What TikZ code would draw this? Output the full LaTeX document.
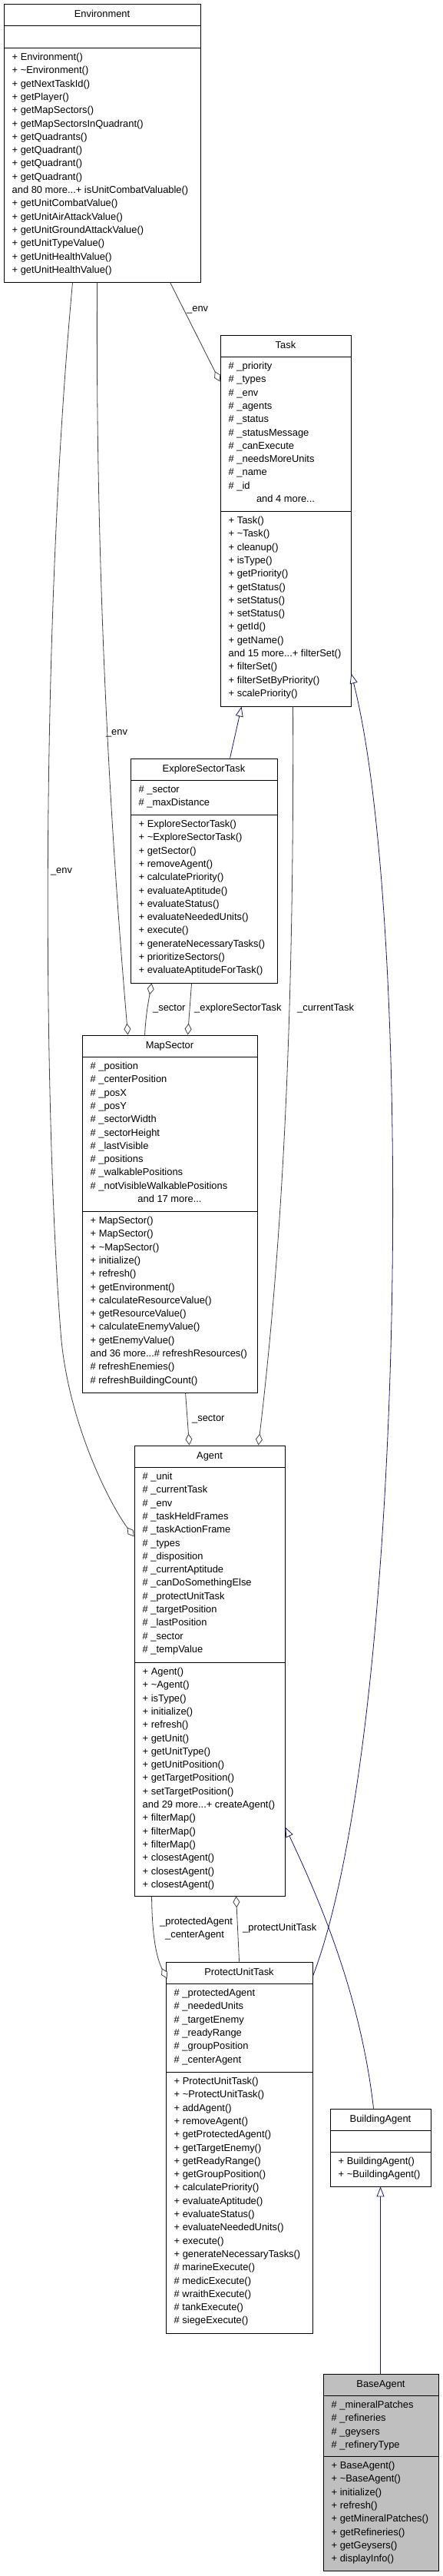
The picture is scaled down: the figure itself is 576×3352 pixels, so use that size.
\documentclass[tikz,border=0pt]{standalone}
\usepackage{fontspec}
\setmainfont{Liberation Sans}
\usetikzlibrary{arrows.meta}
\definecolor{edgegray}{HTML}{404040}
\definecolor{inh}{HTML}{191970}
\definecolor{basefill}{HTML}{BFBFBF}
\newcommand\mydots{...}
\newcommand\tl{\textasciitilde}
\tikzset{
  txt/.style={font=\fontsize{12.9}{15}\selectfont, inner sep=0pt, text=black},
  umlbox/.style={draw=black, line width=0.9pt, inner sep=0pt, rectangle},
  sepline/.style={draw=black, line width=0.9pt},
  assoc/.style={draw=edgegray, line width=0.8pt, -{Diamond[fill=white, length=15pt, width=9pt, line width=0.8pt]}},
  inherit/.style={draw=inh, line width=0.8pt, -{Triangle[fill=white, length=13pt, width=10pt, line width=0.8pt]}},
}
% name, L, R, T, t1, t2, B, fill, title
\newcommand\mkbox[9]{%
  \node[umlbox, fill=#8, minimum width={#3pt-#2pt}, minimum height={#7pt-#4pt}] (#1) at ({(#2+#3)/2},{-(#4+#7)/2}) {};
  \draw[sepline] (#2,-#5) -- (#3,-#5);
  \draw[sepline] (#2,-#6) -- (#3,-#6);
  \node[txt, anchor=base] (#1title) at ({(#2+#3)/2},{-((#4+#5)/2+3.5)}) {#9};
}
% prefix, x, compartment top, list
\newcommand\mlines[4]{%
  \foreach \s [count=\i from 0] in {#4} {
    \node[txt, anchor=base west] (#1\i) at (#2, {-(#3+16.5+17.3*\i)}) {\s};
  }
}
\begin{document}
\begin{tikzpicture}[x=1pt, y=1pt]
\useasboundingbox (0,0) rectangle (576,-3352);

% ---------- Environment ----------
\mkbox{env}{5}{261}{5}{33}{62}{367}{white}{Environment}
\mlines{envm}{15.5}{62}{+ Environment(), + \tl Environment(), + getNextTaskId(), + getPlayer(), + getMapSectors(), + getMapSectorsInQuadrant(), + getQuadrants(), + getQuadrant(), + getQuadrant(), + getQuadrant(), and 80 more\mydots+ isUnitCombatValuable(), + getUnitCombatValue(), + getUnitAirAttackValue(), + getUnitGroundAttackValue(), + getUnitTypeValue(), + getUnitHealthValue(), + getUnitHealthValue()}

% ---------- Task ----------
\mkbox{task}{287}{457}{436}{464}{665}{919}{white}{Task}
\mlines{taska}{297.5}{464}{\# \_priority, \# \_types, \# \_env, \# \_agents, \# \_status, \# \_statusMessage, \# \_canExecute, \# \_needsMoreUnits, \# \_name, \# \_id}
\node[txt, anchor=base] (taskmore) at (372,-653.5) {and 4 more\mydots};
\mlines{taskm}{297.5}{665}{+ Task(), + \tl Task(), + cleanup(), + isType(), + getPriority(), + getStatus(), + setStatus(), + setStatus(), + getId(), + getName(), and 15 more\mydots+ filterSet(), + filterSet(), + filterSetByPriority(), + scalePriority()}

% ---------- ExploreSectorTask ----------
\mkbox{est}{170}{361}{987}{1015}{1060}{1279}{white}{ExploreSectorTask}
\mlines{esta}{180.5}{1015}{\# \_sector, \# \_maxDistance}
\mlines{estm}{180.5}{1060}{+ ExploreSectorTask(), + \tl ExploreSectorTask(), + getSector(), + removeAgent(), + calculatePriority(), + evaluateAptitude(), + evaluateStatus(), + evaluateNeededUnits(), + execute(), + generateNecessaryTasks(), + prioritizeSectors(), + evaluateAptitudeForTask()}

% ---------- MapSector ----------
\mkbox{ms}{107}{335}{1347}{1375}{1576}{1812}{white}{MapSector}
\mlines{msa}{117.5}{1375}{\# \_position, \# \_centerPosition, \# \_posX, \# \_posY, \# \_sectorWidth, \# \_sectorHeight, \# \_lastVisible, \# \_positions, \# \_walkablePositions, \# \_notVisibleWalkablePositions}
\node[txt, anchor=base] (msmore) at (221,-1564.5) {and 17 more\mydots};
\mlines{msm}{117.5}{1576}{+ MapSector(), + MapSector(), + \tl MapSector(), + initialize(), + refresh(), + getEnvironment(), + calculateResourceValue(), + getResourceValue(), + calculateEnemyValue(), + getEnemyValue(), and 36 more\mydots\# refreshResources(), \# refreshEnemies(), \# refreshBuildingCount()}

% ---------- Agent ----------
\mkbox{agent}{175}{371}{1881}{1909}{2163}{2467}{white}{Agent}
\mlines{agenta}{185.5}{1909}{\# \_unit, \# \_currentTask, \# \_env, \# \_taskHeldFrames, \# \_taskActionFrame, \# \_types, \# \_disposition, \# \_currentAptitude, \# \_canDoSomethingElse, \# \_protectUnitTask, \# \_targetPosition, \# \_lastPosition, \# \_sector, \# \_tempValue}
\mlines{agentm}{185.5}{2163}{+ Agent(), + \tl Agent(), + isType(), + initialize(), + refresh(), + getUnit(), + getUnitType(), + getUnitPosition(), + getTargetPosition(), + setTargetPosition(), and 29 more\mydots+ createAgent(), + filterMap(), + filterMap(), + filterMap(), + closestAgent(), + closestAgent(), + closestAgent()}

% ---------- ProtectUnitTask ----------
\mkbox{put}{216}{407}{2553}{2581}{2696}{3036}{white}{ProtectUnitTask}
\mlines{puta}{226.5}{2581}{\# \_protectedAgent, \# \_neededUnits, \# \_targetEnemy, \# \_readyRange, \# \_groupPosition, \# \_centerAgent}
\mlines{putm}{226.5}{2696}{+ ProtectUnitTask(), + \tl ProtectUnitTask(), + addAgent(), + removeAgent(), + getProtectedAgent(), + getTargetEnemy(), + getReadyRange(), + getGroupPosition(), + calculatePriority(), + evaluateAptitude(), + evaluateStatus(), + evaluateNeededUnits(), + execute(), + generateNecessaryTasks(), \# marineExecute(), \# medicExecute(), \# wraithExecute(), \# tankExecute(), \# siegeExecute()}

% ---------- BuildingAgent ----------
\mkbox{bld}{430}{561}{2744}{2772}{2800}{2845}{white}{BuildingAgent}
\mlines{bldm}{440.5}{2800}{+ BuildingAgent(), + \tl BuildingAgent()}

% ---------- BaseAgent ----------
\mkbox{base}{421}{571}{3089}{3117}{3196}{3345}{basefill}{BaseAgent}
\mlines{basea}{431.5}{3117}{\# \_mineralPatches, \# \_refineries, \# \_geysers, \# \_refineryType}
\mlines{basem}{431.5}{3196}{+ BaseAgent(), + \tl BaseAgent(), + initialize(), + refresh(), + getMineralPatches(), + getRefineries(), + getGeysers(), + displayInfo()}

% ---------- connectors ----------
% Environment -> Task (_env)
\draw[assoc] ([xshift=217pt]env.south west) -- ([yshift=-61pt]task.north west);
\node[txt, anchor=base west] (l1) at (243,-405.5) {\_env};
% Environment -> MapSector (_env)
\draw[assoc] ([xshift=122pt]env.south west) .. controls (124,-800) and (150,-1150) .. ([xshift=60pt]ms.north west);
\node[txt, anchor=base] (l2) at (152,-956.5) {\_env};
% Environment -> Agent (_env)
\draw[assoc] ([xshift=90pt]env.south west) .. controls (50,-850) and (58,-1480) .. (80,-1745) .. controls (92,-1860) and (145,-1960) .. ([yshift=-119pt]agent.north west);
\node[txt, anchor=base] (l3) at (80,-1136.5) {\_env};
% ExploreSectorTask -> Task (inheritance)
\draw[inherit] ([xshift=130pt]est.north west) -- ([xshift=28pt]task.south west);
% MapSector -> ExploreSectorTask (_sector)
\draw[assoc] ([xshift=82pt]ms.north west) .. controls (190,-1320) and (193,-1305) .. ([xshift=28pt]est.south west);
\node[txt, anchor=base west] (l5) at (199,-1315.5) {\_sector};
% ExploreSectorTask -> MapSector (_exploreSectorTask)
\draw[assoc] ([xshift=80pt]est.south west) -- ([xshift=138pt]ms.north west);
\node[txt, anchor=base west] (l6) at (253,-1315.5) {\_exploreSectorTask};
% Task -> Agent (_currentTask)
\draw[assoc] ([xshift=95pt]task.south west) .. controls (383,-1300) and (370,-1600) .. ([xshift=162pt]agent.north west);
\node[txt, anchor=base west] (l7) at (387,-1315.5) {\_currentTask};
% MapSector -> Agent (_sector)
\draw[assoc] ([xshift=135pt]ms.south west) -- ([xshift=72pt]agent.north west);
\node[txt, anchor=base west] (l8) at (250,-1849.5) {\_sector};
% Agent -> ProtectUnitTask (_protectedAgent, _centerAgent)
\draw[assoc] ([xshift=23pt]agent.south west) .. controls (198,-2520) and (204,-2548) .. ([xshift=2pt,yshift=-22pt]put.north west);
\node[txt, anchor=base west] (l9a) at (208,-2504) {\_protectedAgent};
\node[txt, anchor=base west] (l9b) at (215,-2521.5) {\_centerAgent};
% ProtectUnitTask -> Agent (_protectUnitTask)
\draw[assoc] ([xshift=96pt]put.north west) -- ([xshift=133pt]agent.south west);
\node[txt, anchor=base west] (l10) at (316,-2512.5) {\_protectUnitTask};
% ProtectUnitTask -> Task (inheritance)
\draw[inherit] ([yshift=-19pt]put.north east) .. controls (530,-2250) and (540,-1200) .. ([yshift=43pt]task.south east);
% BuildingAgent -> Agent (inheritance)
\draw[inherit] ([xshift=57pt]bld.north west) .. controls (470,-2600) and (420,-2480) .. ([yshift=90pt]agent.south east);
% BaseAgent -> BuildingAgent (inheritance)
\draw[inherit] ([xshift=75pt]base.north west) -- ([xshift=66pt]bld.south west);
\end{tikzpicture}
\end{document}
